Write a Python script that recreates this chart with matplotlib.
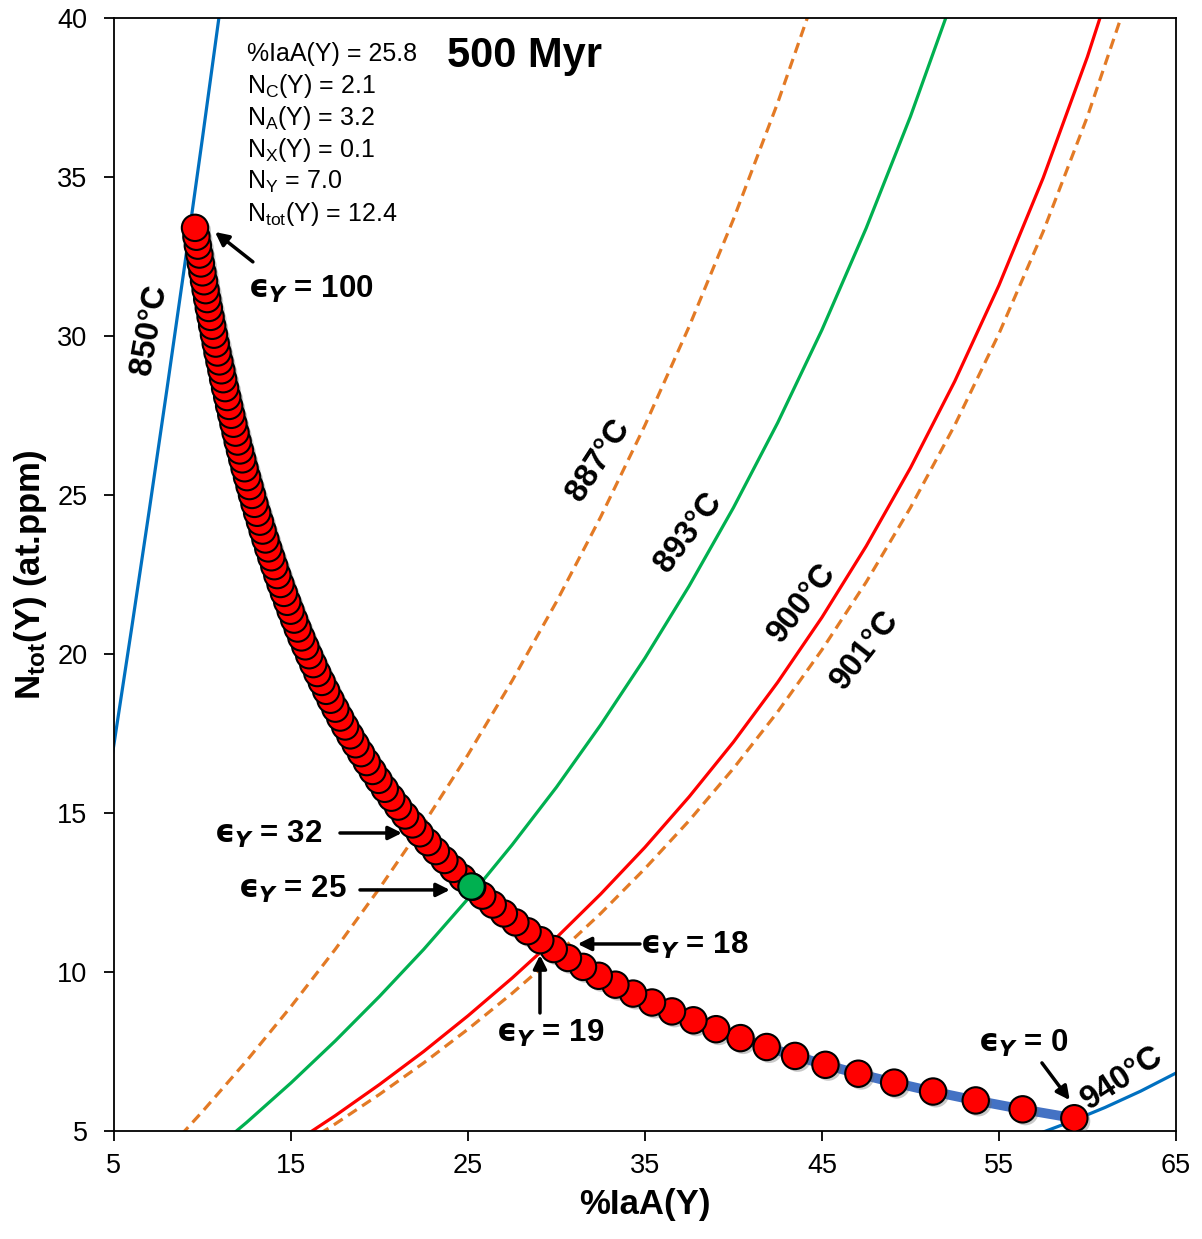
import matplotlib.pyplot as plt
import matplotlib.patheffects as pe

plt.rcParams.update({
    "font.family": ["Liberation Sans", "DejaVu Sans"],
    "mathtext.fontset": "custom",
    "mathtext.rm": "Liberation Sans",
    "mathtext.it": "Liberation Sans:italic",
    "mathtext.bf": "Liberation Sans:bold",
    "axes.linewidth": 1.3,
})

# epsilon_Y = 0 ... 100 path (N_tot vs %IaA)
ntot_y = [5.40, 5.68, 5.96, 6.24, 6.52, 6.80, 7.08, 7.36, 7.64, 7.92,
          8.20, 8.48, 8.76, 9.04, 9.32, 9.60, 9.88, 10.16, 10.44, 10.72,
          11.00, 11.28, 11.56, 11.84, 12.12, 12.40, 12.68, 12.96, 13.24, 13.52,
          13.80, 14.08, 14.36, 14.64, 14.92, 15.20, 15.48, 15.76, 16.04, 16.32,
          16.60, 16.88, 17.16, 17.44, 17.72, 18.00, 18.28, 18.56, 18.84, 19.12,
          19.40, 19.68, 19.96, 20.24, 20.52, 20.80, 21.08, 21.36, 21.64, 21.92,
          22.20, 22.48, 22.76, 23.04, 23.32, 23.60, 23.88, 24.16, 24.44, 24.72,
          25.00, 25.28, 25.56, 25.84, 26.12, 26.40, 26.68, 26.96, 27.24, 27.52,
          27.80, 28.08, 28.36, 28.64, 28.92, 29.20, 29.48, 29.76, 30.04, 30.32,
          30.60, 30.88, 31.16, 31.44, 31.72, 32.00, 32.28, 32.56, 32.84, 33.12,
          33.40]
iaa_y = [59.26, 56.34, 53.69, 51.28, 49.08, 47.06, 45.20, 43.48, 41.88, 40.40,
         39.02, 37.74, 36.53, 35.40, 34.33, 33.33, 32.39, 31.50, 30.65, 29.85,
         29.09, 28.37, 27.68, 27.03, 26.40, 25.81, 25.24, 24.69, 24.17, 23.67,
         23.19, 22.73, 22.28, 21.86, 21.45, 21.05, 20.67, 20.30, 19.95, 19.61,
         19.28, 18.96, 18.65, 18.35, 18.06, 17.78, 17.51, 17.24, 16.99, 16.74,
         16.49, 16.26, 16.03, 15.81, 15.59, 15.38, 15.18, 14.98, 14.79, 14.60,
         14.41, 14.23, 14.06, 13.89, 13.72, 13.56, 13.40, 13.25, 13.09, 12.94,
         12.80, 12.66, 12.52, 12.38, 12.25, 12.12, 11.99, 11.87, 11.75, 11.63,
         11.51, 11.40, 11.28, 11.17, 11.07, 10.96, 10.85, 10.75, 10.65, 10.55,
         10.46, 10.36, 10.27, 10.18, 10.09, 10.00, 9.91, 9.83, 9.74, 9.66,
         9.58]
best_iaa, best_ntot = 25.2, 12.7

# isotherms
iso_850_x = [4.5, 5, 6, 7, 8, 9, 10, 11]
iso_850_y = [15.36, 17.16, 20.81, 24.54, 28.35, 32.24, 36.22, 40.29]

iso_887_x = [7.5, 10, 12.5, 15, 17.5, 20, 22.5, 25, 27.5, 30, 32.5, 35, 37.5, 40, 42.5, 45]
iso_887_y = [4.09, 5.61, 7.21, 8.91, 10.71, 12.63, 14.66, 16.83, 19.16, 21.64,
             24.31, 27.19, 30.30, 33.67, 37.33, 41.32]

iso_893_x = [10, 12.5, 15, 17.5, 20, 22.5, 25, 27.5, 30, 32.5, 35, 37.5, 40,
             42.5, 45, 47.5, 50, 52.5]
iso_893_y = [4.10, 5.27, 6.51, 7.83, 9.23, 10.71, 12.30, 14.00, 15.81, 17.77,
             19.87, 22.14, 24.60, 27.27, 30.19, 33.39, 36.90, 40.78]

iso_900_x = [15, 17.5, 20, 22.5, 25, 27.5, 30, 32.5, 35, 37.5, 40, 42.5, 45,
             47.5, 50, 52.5, 55, 57.5, 60, 62.5]
iso_900_y = [4.56, 5.48, 6.46, 7.50, 8.62, 9.81, 11.08, 12.45, 13.92, 15.51,
             17.23, 19.11, 21.15, 23.39, 25.85, 28.57, 31.59, 34.97, 38.78, 43.08]

iso_901_x = [15, 17.5, 20, 22.5, 25, 27.5, 30, 32.5, 35, 37.5, 40, 42.5, 45,
             47.5, 50, 52.5, 55, 57.5, 60, 62.5]
iso_901_y = [4.34, 5.22, 6.15, 7.14, 8.20, 9.33, 10.54, 11.84, 13.25, 14.76,
             16.40, 18.18, 20.13, 22.26, 24.60, 27.19, 30.07, 33.28, 36.90, 41.00]

iso_940_x = [57, 59, 61, 63, 65, 66]
iso_940_y = [4.86, 5.28, 5.74, 6.25, 6.82, 7.12]

info_lines = [r"%IaA(Y) = 25.8", r"N$_\mathrm{C}$(Y) = 2.1", r"N$_\mathrm{A}$(Y) = 3.2",
              r"N$_\mathrm{X}$(Y) = 0.1", r"N$_\mathrm{Y}$ = 7.0", r"N$_\mathrm{tot}$(Y) = 12.4"]

BLUE = "#0070C0"
ORANGE = "#E37A25"
GREEN = "#00B050"
RED = "#FF0000"

fig = plt.figure(figsize=(12.02, 12.39), dpi=100)
ax = fig.add_axes([0.0948, 0.0872, 0.8835, 0.8983])

ax.plot(iso_850_x, iso_850_y, color=BLUE, lw=2.3)
ax.plot(iso_940_x, iso_940_y, color=BLUE, lw=2.3)
ax.plot(iso_887_x, iso_887_y, color=ORANGE, lw=2.3, ls=(0, (3.3, 2.0)))
ax.plot(iso_893_x, iso_893_y, color=GREEN, lw=2.3)
ax.plot(iso_900_x, iso_900_y, color=RED, lw=2.3)
ax.plot(iso_901_x, iso_901_y, color=ORANGE, lw=2.3, ls=(0, (3.3, 2.0)))

ax.plot(iaa_y, ntot_y, color="#4472C4", lw=7, solid_capstyle="round", zorder=3)
shadow = [pe.SimplePatchShadow(offset=(2, -2), shadow_rgbFace="0.4", alpha=0.35), pe.Normal()]
ax.plot(iaa_y, ntot_y, ls="none", marker="o", ms=19, mfc=RED, mec="black", mew=1.5,
        zorder=4, path_effects=shadow)
ax.plot([best_iaa], [best_ntot], ls="none", marker="o", ms=19, mfc=GREEN, mec="black",
        mew=1.5, zorder=5)

ax.set_xlim(5, 65)
ax.set_ylim(5, 40)
ax.set_xticks(range(5, 66, 10))
ax.set_yticks(range(5, 41, 5))
ax.tick_params(direction="out", length=7, width=1.3, labelsize=19.5,
               top=False, right=False)
ax.tick_params(axis="y", pad=12)
ax.tick_params(axis="x", pad=9)
ax.set_xlabel("%IaA(Y)", fontsize=25, fontweight="bold", labelpad=6)
ax.set_ylabel(r"N$_{\mathbf{tot}}$(Y) (at.ppm)", fontsize=25, fontweight="bold", labelpad=6)

# info block
for i, line in enumerate(info_lines):
    ax.text(0.1252, 0.9614 - i * 0.0287, line, transform=ax.transAxes,
            fontsize=18, va="baseline", ha="left")
ax.text(0.3136, 0.956, "500 Myr", transform=ax.transAxes, fontsize=30,
        fontweight="bold", va="baseline", ha="left")

# isotherm labels
iso_labels = [("850°C", 7.03, 30.19, 80), ("887°C", 32.40, 26.10, 57),
              ("893°C", 37.49, 23.81, 53), ("900°C", 43.87, 21.60, 52),
              ("901°C", 47.43, 20.13, 52), ("940°C", 61.95, 6.67, 33)]
for lab, x, y, rot in iso_labels:
    ax.text(x, y, lab, fontsize=23.5, fontweight="bold", rotation=rot,
            ha="center", va="center", rotation_mode="anchor", zorder=6)

# epsilon annotations
eps_text = [("100", 12.57, 31.45, "left"), ("32", 16.75, 14.31, "right"),
            ("25", 18.16, 12.58, "right"), ("18", 34.72, 10.82, "left"),
            ("19", 29.63, 8.08, "center"), ("0", 56.41, 7.74, "center")]
for val, x, y, ha in eps_text:
    ax.text(x, y, "$\\mathbf{\u03f5}_{\\mathbfit{Y}}$ = " + val, fontsize=22.5,
            fontweight="bold", ha=ha, va="center", math_fontfamily="dejavusans", zorder=6)

eps_arrows = [((12.85, 32.33), (10.71, 33.27)), ((17.77, 14.37), (21.27, 14.37)),
              ((18.90, 12.58), (23.98, 12.58)), ((34.72, 10.88), (31.20, 10.88)),
              ((29.07, 8.71), (29.07, 10.53)), ((57.43, 7.14), (59.00, 5.97))]
for tail, head in eps_arrows:
    ax.annotate("", xy=head, xytext=tail, zorder=6,
                arrowprops=dict(arrowstyle="-|>", color="black", lw=2.5,
                                mutation_scale=20, shrinkA=0, shrinkB=0))

fig.savefig("out.png", dpi=100)
